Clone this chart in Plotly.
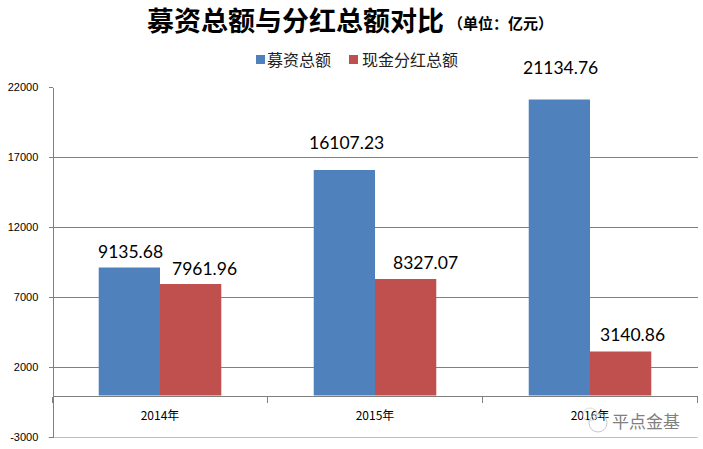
import plotly.graph_objects as go

categories = ["2014年", "2015年", "2016年"]
series_names = ["募资总额", "现金分红总额"]
raised = [9135.68, 16107.23, 21134.76]
dividends = [7961.96, 8327.07, 3140.86]
y_ticks = [-3000, 2000, 7000, 12000, 17000, 22000]
label_fmt = "{:.2f}"
raised_offsets = [(-30, 16), (-29, 28), (-30, 32)]
dividend_offsets = [(44, 16), (50, 16), (42, 17)]

W, H = 703, 449
L, R, T, B = 52.5, 697.5, 87.5, 437.5
y_lo, y_hi = -3000, 22000
dom = [1 - B / H, 1 - T / H]
axis_pos = dom[0] + (0 - y_lo) / (y_hi - y_lo) * (dom[1] - dom[0])
CJK = "Noto Sans CJK SC"
GREY = "#808080"
BLUE, RED = "#4F81BD", "#C0504D"

fig = go.Figure()
fig.add_bar(name=series_names[0], x=categories, y=raised, marker_color=BLUE, marker_line_width=0)
fig.add_bar(name=series_names[1], x=categories, y=dividends, marker_color=RED, marker_line_width=0)

def px(x, y, text, size, anchor="left", color="#000", family=CJK):
    return dict(x=x / W, y=1 - y / H, xref="paper", yref="paper", showarrow=False, text=text,
                xanchor=anchor, yanchor="middle", font=dict(family=family, size=size, color=color))

anns = []
for vals, offs in ((raised, raised_offsets), (dividends, dividend_offsets)):
    for cat, v, (dx, dy) in zip(categories, vals, offs):
        anns.append(dict(x=cat, y=v, xref="x", yref="y", text=label_fmt.format(v), showarrow=False,
                         xshift=dx, yshift=dy, font=dict(family="Lato", size=17.5, color="#000")))
anns += [
    px(145, 20, "<b>募资总额与分红总额对比</b>", 27),
    px(446, 22, "<b>（单位：亿元）</b>", 15),
    px(265, 59, series_names[0], 16, color="#222"),
    px(360, 59, series_names[1], 16, color="#222"),
    px(682, 420, "平点金基", 17, anchor="right", color="#808080"),
]

def rect(x0, x1, y0, y1, color):
    return dict(type="rect", xref="paper", yref="paper", x0=x0 / W, x1=x1 / W, y0=1 - y1 / H, y1=1 - y0 / H,
                fillcolor=color, line=dict(width=0))

shapes = [
    dict(type="line", xref="paper", yref="y", x0=(L - 4) / W, x1=R / W, y0=y_lo, y1=y_lo,
         line=dict(color=GREY, width=1)),
    rect(256, 265, 55, 64, BLUE),
    rect(349, 358, 55, 64, RED),
    dict(type="circle", xref="paper", yref="paper", x0=589 / W, x1=607 / W, y0=1 - 432 / H, y1=1 - 414 / H,
         line=dict(color="#c8c8c8", width=1)),
    dict(type="circle", xref="paper", yref="paper", x0=583 / W, x1=597 / W, y0=1 - 421 / H, y1=1 - 408 / H,
         line=dict(color="#dcdcdc", width=1)),
]

fig.update_layout(
    width=W, height=H, paper_bgcolor="white", plot_bgcolor="white", showlegend=False,
    margin=dict(l=0, r=0, t=0, b=0), barmode="group", bargap=0.43, bargroupgap=0,
    font=dict(family=CJK, color="#000"), annotations=anns, shapes=shapes,
    xaxis=dict(domain=[L / W, R / W], anchor="free", position=axis_pos, type="category", automargin=False,
               showline=True, linecolor=GREY, linewidth=1, ticks="outside", ticklen=6,
               tickcolor=GREY, tickson="boundaries", ticklabelstandoff=9,
               tickfont=dict(family=CJK, size=12, color="#000"), showgrid=False, zeroline=False),
    yaxis=dict(domain=dom, anchor="free", position=L / W, range=[y_lo, y_hi], tickmode="array", tickvals=y_ticks,
               ticktext=[str(t) for t in y_ticks], automargin=False, showline=True, linecolor=GREY, linewidth=1,
               gridcolor=GREY, gridwidth=1, zeroline=False, ticks="outside", ticklen=4, tickcolor=GREY,
               ticklabelstandoff=8, tickfont=dict(family="Liberation Sans", size=11, color="#000")),
)
fig.write_html("out.html", post_script="document.body.style.margin='0';", config=dict(displayModeBar=False))
